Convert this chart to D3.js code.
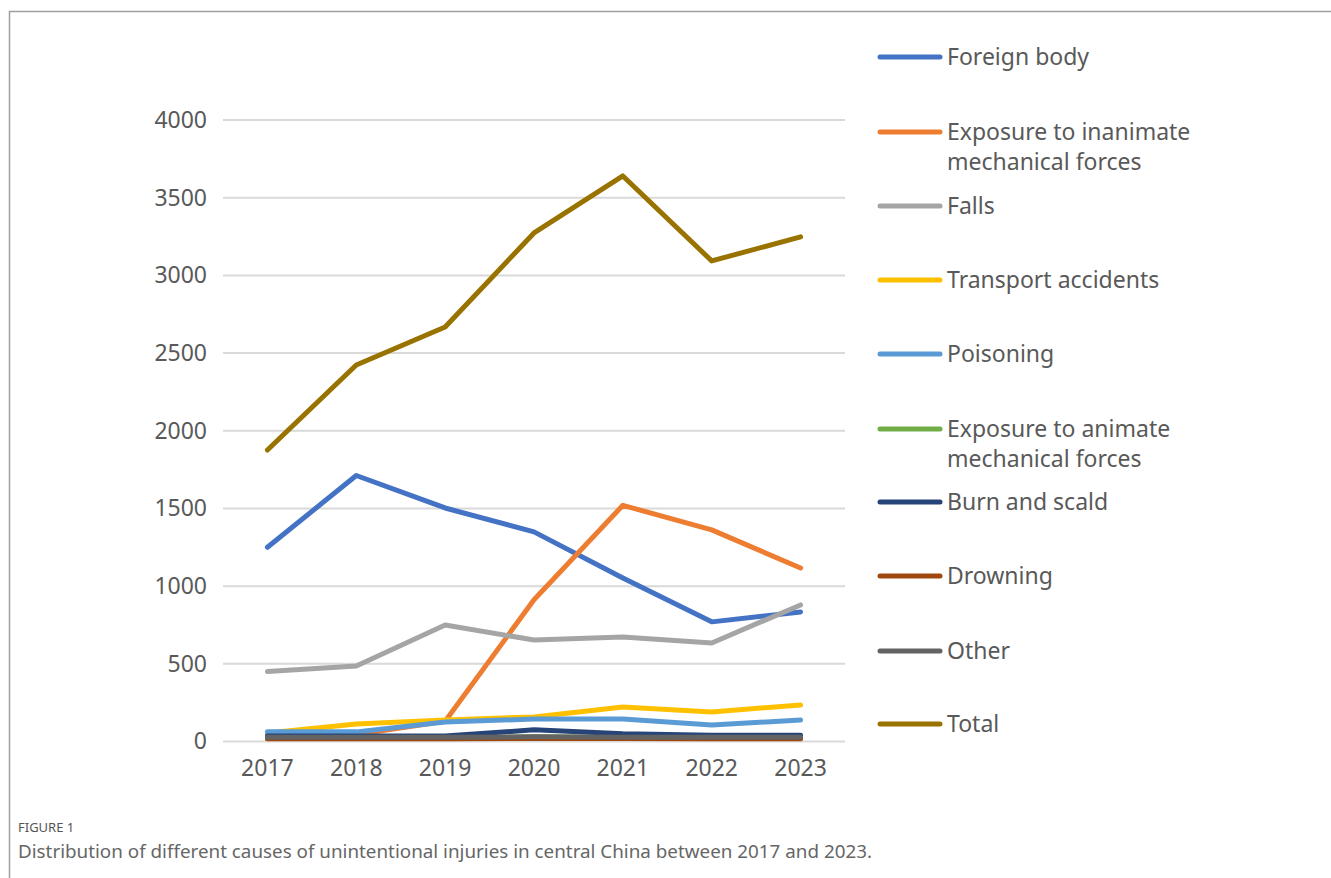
<!DOCTYPE html>
<html>
<head>
<meta charset="utf-8">
<script src="https://cdn.jsdelivr.net/npm/d3@7"></script>
<style>
  body { margin: 0; background: #fff; }
  text { font-family: "Noto Sans", "Open Sans", sans-serif; }
</style>
</head>
<body>
<div id="chart"></div>
<script>
// Data
const years = ['2017', '2018', '2019', '2020', '2021', '2022', '2023'];
const yTicks = [0, 500, 1000, 1500, 2000, 2500, 3000, 3500, 4000];

const foreignBody = [1250, 1712, 1503, 1349, 1052, 770, 834];
const inanimateForces = [40, 45, 130, 912, 1520, 1362, 1117];
const falls = [450, 486, 750, 653, 672, 634, 879];
const transport = [55, 113, 138, 158, 222, 190, 235];
const poisoning = [62, 62, 125, 145, 145, 106, 138];
const animateForces = [22, 22, 22, 30, 25, 22, 22];
const burnScald = [35, 35, 35, 75, 50, 40, 40];
const drowning = [18, 18, 18, 20, 20, 18, 18];
const other = [28, 28, 28, 30, 28, 28, 28];
const total = [1876, 2423, 2668, 3273, 3640, 3093, 3248];

const series = [
  { name: ['Foreign body'], values: foreignBody, color: '#4472C4' },
  { name: ['Exposure to inanimate', 'mechanical forces'], values: inanimateForces, color: '#ED7D31' },
  { name: ['Falls'], values: falls, color: '#A5A5A5' },
  { name: ['Transport accidents'], values: transport, color: '#FFC000' },
  { name: ['Poisoning'], values: poisoning, color: '#5B9BD5' },
  { name: ['Exposure to animate', 'mechanical forces'], values: animateForces, color: '#70AD47' },
  { name: ['Burn and scald'], values: burnScald, color: '#264478' },
  { name: ['Drowning'], values: drowning, color: '#9E480E' },
  { name: ['Other'], values: other, color: '#636363' },
  { name: ['Total'], values: total, color: '#997300' }
];

const width = 1331;
const height = 878;

const svg = d3.select('#chart')
  .append('svg')
  .attr('width', width)
  .attr('height', height);

// outer frame (open at right and bottom)
svg.append('path')
  .attr('d', 'M9.5,878 V11.5 H1331')
  .attr('fill', 'none')
  .attr('stroke', '#a0a0a0')
  .attr('stroke-width', 1.5);

// scales
const xScale = d3.scaleBand()
  .domain(years)
  .range([223, 845]);

const yScale = d3.scaleLinear()
  .domain([0, 4000])
  .range([741.5, 120]);

// gridlines
svg.append('g')
  .selectAll('line')
  .data(yTicks)
  .enter()
  .append('line')
  .attr('x1', 223)
  .attr('x2', 845)
  .attr('y1', d => yScale(d))
  .attr('y2', d => yScale(d))
  .attr('stroke', '#d9d9d9')
  .attr('stroke-width', 2);

// y axis
const yAxis = svg.append('g')
  .attr('transform', 'translate(207,0)')
  .call(d3.axisLeft(yScale).tickValues(yTicks).tickFormat(d3.format('d')).tickSize(0).tickPadding(0));
yAxis.select('.domain').remove();
yAxis.selectAll('text')
  .attr('fill', '#595959')
  .style('font-size', '23px');

// x axis
const xAxis = svg.append('g')
  .attr('transform', 'translate(0,760)')
  .call(d3.axisBottom(xScale).tickSize(0).tickPadding(0));
xAxis.select('.domain').remove();
xAxis.selectAll('text')
  .attr('fill', '#595959')
  .attr('dy', '0.71em')
  .style('font-size', '23px');

// lines
const line = d3.line()
  .x((d, i) => xScale(years[i]) + xScale.bandwidth() / 2)
  .y(d => yScale(d));

svg.append('g')
  .selectAll('path')
  .data(series)
  .enter()
  .append('path')
  .attr('d', d => line(d.values))
  .attr('fill', 'none')
  .attr('stroke', d => d.color)
  .attr('stroke-width', 5)
  .attr('stroke-linecap', 'round')
  .attr('stroke-linejoin', 'round');

// legend
const legendY = [57, 132, 206, 280, 354, 429, 502, 576, 651, 724];
const legend = svg.append('g')
  .selectAll('g')
  .data(series)
  .enter()
  .append('g')
  .attr('transform', (d, i) => `translate(880,${legendY[i]})`);

legend.append('line')
  .attr('x1', 0)
  .attr('x2', 60)
  .attr('stroke', d => d.color)
  .attr('stroke-width', 5)
  .attr('stroke-linecap', 'round');

legend.append('text')
  .attr('x', 67)
  .attr('fill', '#595959')
  .style('font-size', '23px')
  .selectAll('tspan')
  .data(d => d.name)
  .enter()
  .append('tspan')
  .attr('x', 67)
  .attr('y', (d, i) => i * 30)
  .attr('dy', '0.35em')
  .text(d => d);

// caption
svg.append('text')
  .attr('x', 18)
  .attr('y', 832)
  .attr('fill', '#555')
  .style('font-size', '13px')
  .text('FIGURE 1');

svg.append('text')
  .attr('x', 18)
  .attr('y', 858)
  .attr('fill', '#666')
  .style('font-size', '18px')
  .attr('textLength', 854)
  .attr('lengthAdjust', 'spacingAndGlyphs')
  .text('Distribution of different causes of unintentional injuries in central China between 2017 and 2023.');
</script>
</body>
</html>
